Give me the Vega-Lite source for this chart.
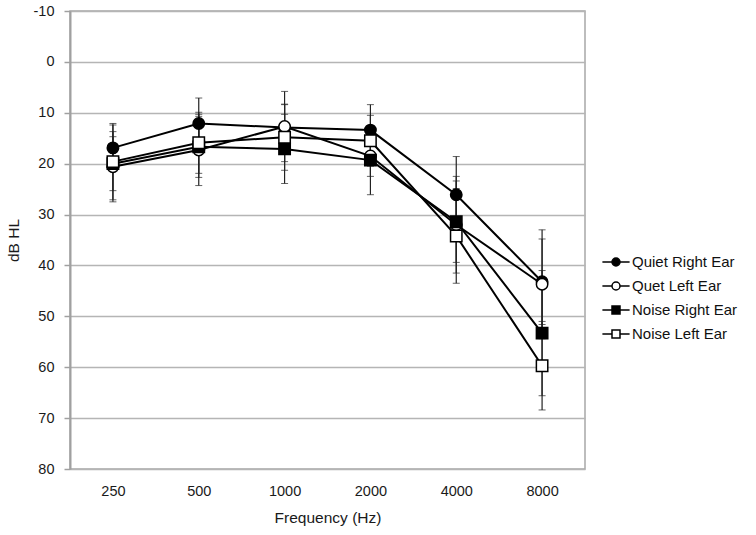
{
  "$schema": "https://vega.github.io/schema/vega-lite/v6.json",
  "width": 515,
  "height": 458,
  "autosize": "none",
  "padding": {"left": 70, "top": 11, "right": 171, "bottom": 66},
  "background": "white",
  "config": {
    "font": "Liberation Sans",
    "view": {"stroke": "#a8a8a8", "strokeWidth": 1.5},
    "axis": {"labelFont": "Liberation Sans", "titleFont": "Liberation Sans", "labelColor": "#1a1a1a", "titleColor": "#1a1a1a", "labelFontSize": 14.5, "titleFontSize": 15.5, "titleFontWeight": "normal"}
  },
  "data": {"values": [
    {"freq": "250", "series": "Quiet Right Ear", "mean": 16.9, "sd": 4.5},
    {"freq": "500", "series": "Quiet Right Ear", "mean": 12.1, "sd": 5.0},
    {"freq": "1000", "series": "Quiet Right Ear", "mean": 12.9, "sd": 4.5},
    {"freq": "2000", "series": "Quiet Right Ear", "mean": 13.4, "sd": 5.0},
    {"freq": "4000", "series": "Quiet Right Ear", "mean": 26.1, "sd": 7.5},
    {"freq": "8000", "series": "Quiet Right Ear", "mean": 43.2, "sd": 8.4},
    {"freq": "250", "series": "Quet Left Ear", "mean": 20.6, "sd": 6.9},
    {"freq": "500", "series": "Quet Left Ear", "mean": 17.3, "sd": 7.0},
    {"freq": "1000", "series": "Quet Left Ear", "mean": 12.7, "sd": 6.9},
    {"freq": "2000", "series": "Quet Left Ear", "mean": 18.5, "sd": 4.0},
    {"freq": "4000", "series": "Quet Left Ear", "mean": 32.0, "sd": 9.5},
    {"freq": "8000", "series": "Quet Left Ear", "mean": 43.7, "sd": 10.7},
    {"freq": "250", "series": "Noise Right Ear", "mean": 20.0, "sd": 5.3},
    {"freq": "500", "series": "Noise Right Ear", "mean": 16.7, "sd": 6.0},
    {"freq": "1000", "series": "Noise Right Ear", "mean": 17.1, "sd": 6.8},
    {"freq": "2000", "series": "Noise Right Ear", "mean": 19.3, "sd": 6.8},
    {"freq": "4000", "series": "Noise Right Ear", "mean": 31.4, "sd": 8.0},
    {"freq": "8000", "series": "Noise Right Ear", "mean": 53.3, "sd": 12.3},
    {"freq": "250", "series": "Noise Left Ear", "mean": 19.6, "sd": 7.5},
    {"freq": "500", "series": "Noise Left Ear", "mean": 15.9, "sd": 6.0},
    {"freq": "1000", "series": "Noise Left Ear", "mean": 14.8, "sd": 6.5},
    {"freq": "2000", "series": "Noise Left Ear", "mean": 15.5, "sd": 5.0},
    {"freq": "4000", "series": "Noise Left Ear", "mean": 34.2, "sd": 9.3},
    {"freq": "8000", "series": "Noise Left Ear", "mean": 59.7, "sd": 8.7}
  ]},
  "encoding": {
    "x": {"field": "freq", "type": "nominal", "sort": ["250", "500", "1000", "2000", "4000", "8000"],
      "scale": {"type": "point", "padding": 0.5},
      "axis": {"title": "Frequency (Hz)", "labelAngle": 0, "ticks": false, "domain": false, "grid": false, "labelPadding": 15, "titlePadding": 13}},
    "y": {"field": "mean", "type": "quantitative", "title": "dB HL", "scale": {"domain": [-10, 80], "reverse": true, "nice": false},
      "axis": {"title": "dB HL", "values": [-10, 0, 10, 20, 30, 40, 50, 60, 70, 80], "labelExpr": "'' + datum.value", "gridColor": "#b5b5b5", "gridWidth": 1.5, "domainColor": "#a0a0a0", "domainWidth": 2, "tickColor": "#a0a0a0", "tickWidth": 1.5, "tickSize": 6, "labelPadding": 10, "titlePadding": 12}}
  },
  "layer": [
    {
      "mark": {"type": "errorbar", "ticks": {"size": 7, "color": "#222", "strokeWidth": 1.2}, "rule": {"color": "#222", "strokeWidth": 1.2}},
      "encoding": {
        "yError": {"field": "sd"},
        "detail": {"field": "series"}
      }
    },
    {
      "mark": {"type": "line", "color": "black", "strokeWidth": 2},
      "encoding": {
        "detail": {"field": "series"}
      }
    },
    {
      "mark": {"type": "point", "stroke": "black", "strokeWidth": 1.5, "opacity": 1, "size": 130},
      "encoding": {
        "shape": {"field": "series", "type": "nominal",
          "scale": {"domain": ["Quiet Right Ear", "Quet Left Ear", "Noise Right Ear", "Noise Left Ear"], "range": ["circle", "circle", "square", "square"]},
          "legend": null},
        "fill": {"field": "series", "type": "nominal",
          "scale": {"domain": ["Quiet Right Ear", "Quet Left Ear", "Noise Right Ear", "Noise Left Ear"], "range": ["black", "white", "black", "white"]},
          "legend": null}
      }
    },
    {
      "transform": [{"filter": "datum.freq == 'none'"}],
      "mark": {"type": "point", "stroke": "black", "strokeWidth": 2, "opacity": 1, "size": 256},
      "encoding": {
        "shape": {"field": "series", "type": "nominal",
          "scale": {"domain": ["Quiet Right Ear", "Quet Left Ear", "Noise Right Ear", "Noise Left Ear"], "range": ["M-1.7,0H-0.5M0.5,0H1.7M-0.5,0A0.5,0.5 0 1 0 0.5,0A0.5,0.5 0 1 0 -0.5,0Z", "M-1.7,0H-0.5M0.5,0H1.7M-0.5,0A0.5,0.5 0 1 0 0.5,0A0.5,0.5 0 1 0 -0.5,0Z", "M-1.7,0H-0.5M0.5,0H1.7M-0.5,-0.5H0.5V0.5H-0.5Z", "M-1.7,0H-0.5M0.5,0H1.7M-0.5,-0.5H0.5V0.5H-0.5Z"]},
          "legend": {"title": null, "orient": "none", "legendX": 537, "legendY": 242, "symbolSize": 256, "labelFontSize": 15, "labelColor": "#111", "labelOffset": 7, "rowPadding": 7,
            "encode": {"symbols": {"stroke": {"value": "black"}, "strokeWidth": {"value": 2}, "opacity": {"value": 1}}}}},
        "fill": {"field": "series", "type": "nominal",
          "scale": {"domain": ["Quiet Right Ear", "Quet Left Ear", "Noise Right Ear", "Noise Left Ear"], "range": ["black", "white", "black", "white"]},
          "legend": {"title": null, "orient": "none", "legendX": 537, "legendY": 242, "symbolSize": 256, "labelFontSize": 15, "labelColor": "#111", "labelOffset": 7, "rowPadding": 7,
            "encode": {"symbols": {"stroke": {"value": "black"}, "strokeWidth": {"value": 2}, "opacity": {"value": 1}}}}}
      }
    }
  ],
  "resolve": {"scale": {"shape": "independent", "fill": "independent"}}
}
